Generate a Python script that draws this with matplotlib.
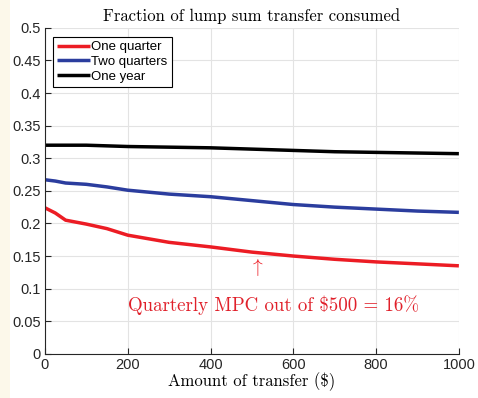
import matplotlib
matplotlib.use("Agg")
import matplotlib.pyplot as plt
from matplotlib.patches import Rectangle

plt.rcParams['mathtext.fontset'] = 'cm'

# Transfer amounts ($) and fraction consumed over each horizon
transfer = [0, 25, 50, 100, 150, 200, 300, 400, 500, 600, 700, 800, 900, 1000]
one_quarter = [0.224, 0.216, 0.205, 0.199, 0.192, 0.182, 0.171, 0.164, 0.156, 0.150, 0.145, 0.141, 0.138, 0.135]
two_quarters = [0.267, 0.265, 0.262, 0.260, 0.256, 0.251, 0.245, 0.241, 0.235, 0.229, 0.225, 0.222, 0.219, 0.217]
one_year = [0.320, 0.320, 0.320, 0.320, 0.319, 0.318, 0.317, 0.316, 0.314, 0.312, 0.310, 0.309, 0.308, 0.307]

series_labels = ["One quarter", "Two quarters", "One year"]
series_colors = ["#ec1c24", "#2b3d9e", "#000000"]

xticks = [0, 200, 400, 600, 800, 1000]
yticks = [0, 0.05, 0.1, 0.15, 0.2, 0.25, 0.3, 0.35, 0.4, 0.45, 0.5]
ytick_labels = ["0", "0.05", "0.1", "0.15", "0.2", "0.25", "0.3", "0.35", "0.4", "0.45", "0.5"]

mpc_amount = 500
mpc_value = 0.16

fig = plt.figure(figsize=(4.78, 3.98), dpi=100)
fig.patch.set_facecolor("white")
fig.add_artist(Rectangle((0, 0), 0.02, 1, transform=fig.transFigure,
                         facecolor="#fcf8ea", edgecolor="none", zorder=-1))
ax = fig.add_axes([0.094, 0.111, 0.866, 0.819])

for ys, lab, col in zip([one_quarter, two_quarters, one_year], series_labels, series_colors):
    ax.plot(transfer, ys, color=col, lw=2.5, label=lab, solid_capstyle="butt")

ax.set_xlim(0, 1000)
ax.set_ylim(0, 0.5)
ax.set_xticks(xticks)
ax.set_yticks(yticks)
ax.set_yticklabels(ytick_labels)
ax.grid(True, color="#e3e3e3", lw=0.8)
ax.set_axisbelow(True)
for s in ("top", "right"):
    ax.spines[s].set_visible(False)
for s in ("left", "bottom"):
    ax.spines[s].set_color("#262626")
    ax.spines[s].set_linewidth(0.8)
ax.tick_params(direction="in", length=4, width=0.8, color="#262626",
               labelsize=10.5, labelcolor="#262626", pad=3)
for lbl in ax.get_xticklabels() + ax.get_yticklabels():
    lbl.set_fontfamily("Liberation Sans")

ax.set_title("Fraction of lump sum transfer consumed", fontfamily="cmr10",
             fontsize=12, pad=5)
ax.set_xlabel("Amount of transfer ($)", fontfamily="cmr10", fontsize=12, labelpad=0)

leg = ax.legend(loc="upper left", bbox_to_anchor=(0.02, 0.972), frameon=True,
                fancybox=False, edgecolor="#000000", framealpha=1,
                prop={"family": "Liberation Sans", "size": 9.5},
                handlelength=2.5, handletextpad=0.1, borderpad=0.3,
                labelspacing=0.2, borderaxespad=0)
leg.get_frame().set_linewidth(0.8)

ax.annotate(r"$\uparrow$", xy=(512, 0.133), ha="center", va="center",
            color="#ec1c24", fontsize=14)
ax.text(553, 0.075, "Quarterly MPC out of $%d = %d%%" % (mpc_amount, round(mpc_value * 100)),
        ha="center", va="center", color="#e0202a", fontfamily="cmr10", fontsize=13.6)

fig.savefig("out.png", dpi=100)
